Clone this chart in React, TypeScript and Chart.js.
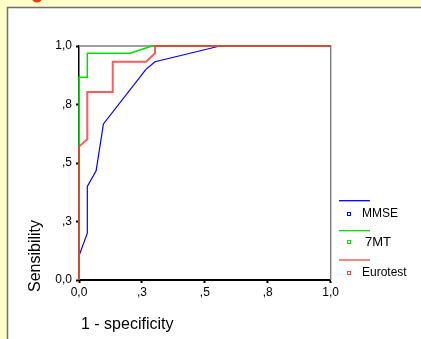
import React, { useEffect, useRef } from "react";
import { Chart, registerables } from "chart.js";

Chart.register(...registerables);

const seriesNames = ["MMSE", "7MT", "Eurotest"];
const mmseX = [0, 0, 0.033, 0.033, 0.068, 0.097, 0.266, 0.302, 0.56, 1.0];
const mmseY = [0, 0.103, 0.2, 0.4, 0.467, 0.667, 0.9, 0.933, 1.0, 1.0];
const sevenX = [0, 0, 0.033, 0.033, 0.203, 0.29, 1.0];
const sevenY = [0, 0.866, 0.866, 0.969, 0.969, 1.0, 1.0];
const euroX = [0, 0, 0.033, 0.033, 0.134, 0.134, 0.266, 0.302, 0.302, 1.0];
const euroY = [0, 0.57, 0.601, 0.803, 0.803, 0.933, 0.933, 0.969, 1.0, 1.0];
const tickValues = [0, 0.25, 0.5, 0.75, 1.0];
const tickLabels = ["0,0", ",3", ",5", ",8", "1,0"];

const colors = { MMSE: "#0000ff", "7MT": "#00e000", Eurotest: "#ff4040" };

const pts = (xs: number[], ys: number[]) => xs.map((x, i) => ({ x, y: ys[i] }));

const FONT = "Arial, 'Liberation Sans', sans-serif";

export default function App() {
  const ref = useRef<HTMLCanvasElement | null>(null);
  useEffect(() => {
    if (!ref.current) return;
    const bgPlugin = {
      id: "bg",
      beforeDraw(chart: any) {
        const c = chart.ctx;
        c.save();
        c.fillStyle = "#ffffcc";
        c.fillRect(0, 0, chart.width, chart.height);
        c.fillStyle = "#ff3a00";
        c.beginPath();
        c.arc(37, -3, 5.5, 0, Math.PI * 2);
        c.fill();
        c.fillStyle = "#ffffff";
        c.fillRect(8, 8, chart.width - 8, chart.height - 8);
        c.strokeStyle = "#6e6e6e";
        c.lineWidth = 1.5;
        c.beginPath();
        c.moveTo(7.5, chart.height);
        c.lineTo(7.5, 7.5);
        c.lineTo(chart.width, 7.5);
        c.stroke();
        c.restore();
      },
      beforeDatasetsDraw(chart: any) {
        const c = chart.ctx;
        const a = chart.chartArea;
        c.save();
        c.strokeStyle = "#808080";
        c.lineWidth = 1.5;
        c.beginPath();
        c.moveTo(a.left, a.top);
        c.lineTo(a.right, a.top);
        c.lineTo(a.right, a.bottom);
        c.stroke();
        c.restore();
      },
      afterDraw(chart: any) {
        const c = chart.ctx;
        c.save();
        // axis titles
        c.fillStyle = "#000";
        c.font = `16px ${FONT}`;
        c.textBaseline = "middle";
        c.textAlign = "left";
        c.fillText("1 - specificity", 81, 325);
        c.save();
        c.translate(36, 256);
        c.rotate(-Math.PI / 2);
        c.textAlign = "center";
        c.fillText("Sensibility", 0, 0);
        c.restore();
        // legend
        const rows = [
          { name: seriesNames[0], lineY: 200.7, markY: 214, tx: 362, font: `12px ${FONT}` },
          { name: seriesNames[1], lineY: 230.7, markY: 242, tx: 365, font: `13px ${FONT}` },
          { name: seriesNames[2], lineY: 260, markY: 273, tx: 362, font: `12px ${FONT}` },
        ];
        rows.forEach((r) => {
          const col = (colors as any)[r.name];
          c.strokeStyle = col;
          c.lineWidth = 1.3;
          c.beginPath();
          c.moveTo(339, r.lineY);
          c.lineTo(370, r.lineY);
          c.stroke();
          c.lineWidth = 1;
          c.strokeRect(347.5, r.markY - 1.5, 3, 3);
          c.fillStyle = "#000";
          c.font = r.font;
          c.textAlign = "left";
          c.textBaseline = "middle";
          c.fillText(r.name, r.tx, r.markY);
        });
        c.restore();
      },
    };
    const chart = new Chart(ref.current, {
      type: "line",
      data: {
        datasets: [
          { label: seriesNames[2], data: pts(euroX, euroY), borderColor: "rgba(255,50,50,0.8)", borderWidth: 2, pointRadius: 0, tension: 0, clip: 6 } as any,
          { label: seriesNames[1], data: pts(sevenX, sevenY), borderColor: colors["7MT"], borderWidth: 1.5, pointRadius: 0, tension: 0, clip: 6 } as any,
          { label: seriesNames[0], data: pts(mmseX, mmseY), borderColor: colors.MMSE, borderWidth: 1.2, pointRadius: 0, tension: 0, clip: 6 } as any,
        ],
      },
      options: {
        animation: false,
        responsive: false,
        events: [],
        layout: { padding: { left: 0, right: 90.3, top: 46, bottom: 0 } },
        plugins: { legend: { display: false }, tooltip: { enabled: false } },
        scales: {
          x: {
            type: "linear",
            min: 0,
            max: 1,
            afterFit: (s: any) => { s.height = 59; },
            afterBuildTicks: (s: any) => { s.ticks = tickValues.map((v) => ({ value: v })); },
            ticks: {
              autoSkip: false,
              maxRotation: 0,
              color: "#000",
              padding: 2,
              font: { family: FONT, size: 12 },
              callback: (v: any) => tickLabels[tickValues.indexOf(Number(v))] ?? "",
            },
            grid: { drawOnChartArea: false, drawTicks: true, tickLength: 3, color: "#000", tickWidth: 2 },
            border: { display: true, color: "#000", width: 2 },
          },
          y: {
            type: "linear",
            min: 0,
            max: 1,
            afterFit: (s: any) => { s.width = 79; },
            afterBuildTicks: (s: any) => { s.ticks = tickValues.map((v) => ({ value: v })); },
            ticks: {
              autoSkip: false,
              color: "#000",
              padding: 4,
              font: { family: FONT, size: 12 },
              callback: (v: any) => tickLabels[tickValues.indexOf(Number(v))] ?? "",
            },
            grid: { drawOnChartArea: false, drawTicks: true, tickLength: 3, color: "#000", tickWidth: 2 },
            border: { display: true, color: "#000", width: 1.5 },
          },
        },
      },
      plugins: [bgPlugin],
    } as any);
    return () => chart.destroy();
  }, []);
  return (
    <div style={{ position: "fixed", left: 0, top: 0, width: 421, height: 339 }}>
      <canvas ref={ref} width={421} height={339} style={{ display: "block", width: 421, height: 339 }} />
    </div>
  );
}
